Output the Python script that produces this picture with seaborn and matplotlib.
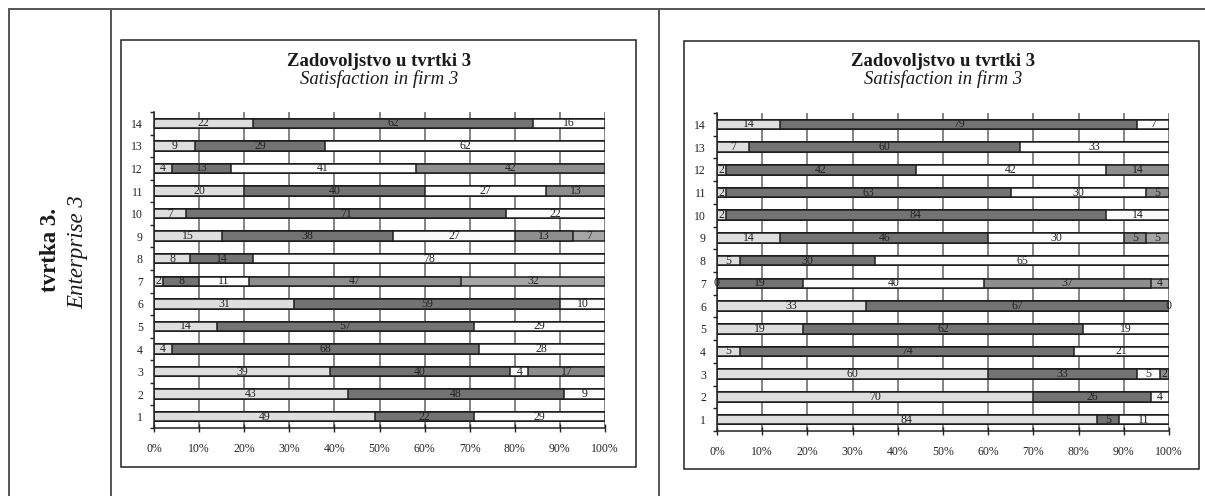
import numpy as np
import matplotlib
matplotlib.use("Agg")
import matplotlib.pyplot as plt
from matplotlib.lines import Line2D
from matplotlib.patches import Rectangle
import seaborn as sns

# Question numbers (rows, bottom to top)
questions = list(range(1, 15))

nan = np.nan
# Left panel: answer shares per question, one list per answer category
left_s1 = [49, 43, 39, 4, 14, 31, 2, 8, 15, 7, 20, 4, 9, 22]
left_s2 = [22, 48, 40, 68, 57, 59, 8, 14, 38, 71, 40, 13, 29, 62]
left_s3 = [29, 9, 4, 28, 29, 10, 11, 78, 27, 22, 27, 41, 62, 16]
left_s4 = [nan, nan, 17, nan, nan, nan, 47, nan, 13, nan, 13, 42, nan, nan]
left_s5 = [nan, nan, nan, nan, nan, nan, 32, nan, 7, nan, nan, nan, nan, nan]

# Right panel
right_s1 = [84, 70, 60, 5, 19, 33, 0, 5, 14, 2, 2, 2, 7, 14]
right_s2 = [5, 26, 33, 74, 62, 67, 19, 30, 46, 84, 63, 42, 60, 79]
right_s3 = [11, 4, 5, 21, 19, 0, 40, 65, 30, 14, 30, 42, 33, 7]
right_s4 = [nan, nan, 2, nan, nan, nan, 37, nan, 5, nan, 5, 14, nan, nan]
right_s5 = [nan, nan, nan, nan, nan, nan, 4, nan, 5, nan, nan, nan, nan, nan]

x_ticks = list(range(0, 101, 10))
x_tick_labels = [f"{t}%" for t in x_ticks]

title_main = "Zadovoljstvo u tvrtki 3"
title_sub = "Satisfaction in firm 3"
side_main = "tvrtka 3."
side_sub = "Enterprise 3"

colors = ["#dedede", "#737373", "#fafafa", "#8e8e8e", "#a6a6a6"]

sns.set_theme(style="white")
plt.rcParams["font.family"] = ["Liberation Serif", "DejaVu Serif"]

W, H = 1205, 496
fig = plt.figure(figsize=(W / 100, H / 100), dpi=100)


def fx(px):
    return px / W


def fy(py):
    return 1 - py / H


def add_axes_px(x0, y0, x1, y1):
    return fig.add_axes([fx(x0), fy(y1), fx(x1) - fx(x0), fy(y0) - fy(y1)])


# Table frame around the charts
line_kw = dict(color="#555555", lw=1.4, transform=fig.transFigure)
fig.add_artist(Line2D([fx(9), fx(1205)], [fy(9), fy(9)], **line_kw))
for xv in (9, 111, 659):
    fig.add_artist(Line2D([fx(xv), fx(xv)], [fy(9), fy(496)], **line_kw))

fig.text(fx(50), fy(250), side_main, rotation=90, ha="center", va="center",
         fontsize=16.5, fontweight="bold", color="#1a1a1a")
fig.text(fx(78), fy(252), side_sub, rotation=90, ha="center", va="center",
         fontsize=16.5, fontstyle="italic", color="#1a1a1a")


def draw_panel(box, ax_box, series):
    bx0, by0, bx1, by1 = box
    fig.add_artist(Rectangle((fx(bx0), fy(by1)), fx(bx1) - fx(bx0), fy(by0) - fy(by1),
                             transform=fig.transFigure, fill=False,
                             edgecolor="#222222", lw=1.1))
    ax = add_axes_px(*ax_box)
    order = [str(q) for q in questions[::-1]]
    cats = [str(q) for q in questions]

    vals = [np.array(s, dtype=float) for s in series]
    cums = np.cumsum([np.nan_to_num(v) for v in vals], axis=0)

    # vertical gridlines behind the bars
    for t in x_ticks:
        ax.axvline(t, color="#7a7a7a", lw=1.3, zorder=0)

    # stacked bars: draw cumulative totals from the last category to the first
    for k in range(len(vals) - 1, -1, -1):
        sns.barplot(x=cums[k], y=cats, order=order, orient="h", color=colors[k],
                    saturation=1, edgecolor="#1e1e1e", linewidth=1.1,
                    width=0.42, errorbar=None, ax=ax, zorder=2)

    # segment value labels
    for k, v in enumerate(vals):
        for i, q in enumerate(cats):
            if np.isnan(v[i]):
                continue
            pos = order.index(q)
            ax.text(cums[k][i] - v[i] / 2, pos, f"{int(v[i])}", ha="center",
                    va="center", fontsize=8.5, color="#222222", zorder=5)

    ax.set_xlim(0, 100)
    ax.set_ylim(13.5, -0.5)
    ax.set_xlabel("")
    ax.set_ylabel("")
    ax.set_xticks(x_ticks)
    ax.set_xticklabels(x_tick_labels)
    ax.set_yticks(range(len(order)))
    ax.set_yticklabels(order)
    ax.set_yticks(np.arange(-0.5, len(order), 1.0), minor=True)
    ax.tick_params(axis="y", which="major", length=0, pad=8, labelsize=8.5,
                   labelcolor="#222222")
    ax.tick_params(axis="y", which="minor", left=True, length=3, width=1,
                   color="#222222", direction="out")
    ax.tick_params(axis="x", which="major", bottom=True, length=6, width=1,
                   color="#222222", direction="inout", pad=8, labelsize=8.5,
                   labelcolor="#222222")
    for side in ("top", "right"):
        ax.spines[side].set_visible(False)
    for side in ("left", "bottom"):
        ax.spines[side].set_color("#222222")
        ax.spines[side].set_linewidth(1.1)
        ax.spines[side].set_zorder(6)
    ax.patch.set_alpha(0)

    cx = (ax_box[0] + ax_box[2]) / 2
    fig.text(fx(cx), fy(61), title_main, ha="center", va="center",
             fontsize=13.5, fontweight="bold", color="#1a1a1a")
    fig.text(fx(cx), fy(79), title_sub, ha="center", va="center",
             fontsize=13.5, fontstyle="italic", color="#1a1a1a")
    return ax


draw_panel((121, 40, 636, 467), (154, 112, 605, 428),
           [left_s1, left_s2, left_s3, left_s4, left_s5])
draw_panel((684, 41, 1199, 469), (717, 113, 1169, 431),
           [right_s1, right_s2, right_s3, right_s4, right_s5])

fig.savefig("out.png", dpi=100, facecolor="white")
